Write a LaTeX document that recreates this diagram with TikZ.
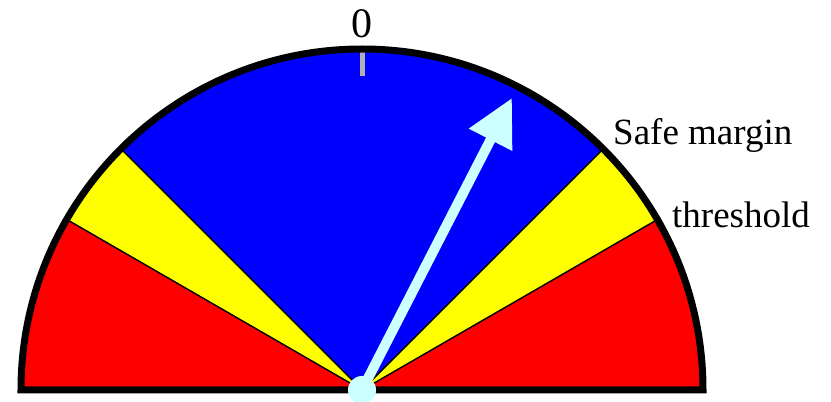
\documentclass[tikz,border=0pt]{standalone}
\usepackage{fontspec}
\setmainfont{Liberation Serif}
\usetikzlibrary{arrows.meta}
\definecolor{zoneblue}{HTML}{0000FF}
\definecolor{zoneyellow}{HTML}{FFFF00}
\definecolor{zonered}{HTML}{FF0000}
\definecolor{needle}{HTML}{CCFFFF}
\definecolor{tickgray}{HTML}{B0B0B0}
\tikzset{
  zone/.style={draw=black, line width=1.3pt, line join=miter},
  rim/.style={draw=black, line width=7pt, line join=miter},
  pointer/.style={-{Triangle[length=47pt, width=46pt]}, line width=10pt, color=needle},
  label/.style={font=\fontsize{37}{40}\selectfont, anchor=base west, inner sep=0pt}
}

\begin{document}
\begin{tikzpicture}[x=1pt, y=1pt]
\useasboundingbox (0,0) rectangle (831,402);
\coordinate (c) at (362,12);
\def\R{341}

% zones of the dial
\filldraw[zone, fill=zonered] (c) -- ++(0:\R) arc (0:30:\R) -- cycle;
\filldraw[zone, fill=zoneyellow] (c) -- ++(30:\R) arc (30:45:\R) -- cycle;
\filldraw[zone, fill=zoneblue] (c) -- ++(45:\R) arc (45:135:\R) -- cycle;
\filldraw[zone, fill=zoneyellow] (c) -- ++(135:\R) arc (135:150:\R) -- cycle;
\filldraw[zone, fill=zonered] (c) -- ++(150:\R) arc (150:180:\R) -- cycle;

\draw[line width=5pt, tickgray] (362,352) -- (362,326);
\draw[rim] (c) ++(180:\R) arc (180:0:\R) -- cycle;

\node[font=\fontsize{42}{46}\selectfont, anchor=base, inner sep=0pt] (zero) at (362,364) {0};
\node[label] (safe) at (613,257) {Safe margin};
\node[label] (thr) at (672,174) {threshold};

\coordinate (tip) at (512,304);
\draw[pointer] (c) -- (tip);
\fill[needle] (c) circle (14);
\end{tikzpicture}
\end{document}
